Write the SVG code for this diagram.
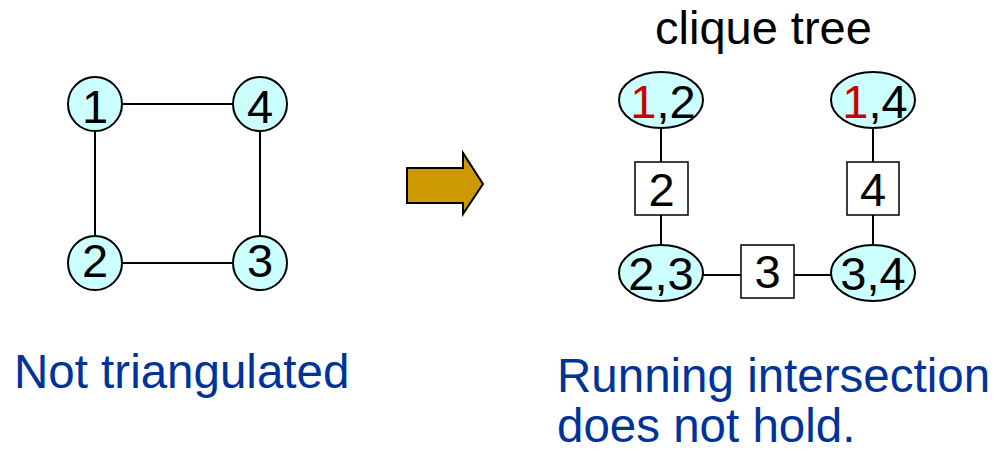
<svg xmlns="http://www.w3.org/2000/svg" width="995" height="452" viewBox="0 0 995 452">
<style>
.n{fill:#ccffff;stroke:#000;stroke-width:2}
.b{fill:#fff;stroke:#000;stroke-width:1.5}
.t{font-family:"Liberation Sans",Arial,sans-serif;font-size:47px;fill:#000;text-anchor:middle}
.r{fill:#cc0000}
.c line{stroke:#000;stroke-width:2}
.blue{font-family:"Liberation Sans",Arial,sans-serif;font-size:47.5px;fill:#003399}
</style>
<rect width="995" height="452" fill="#fff"/>
<g class="c" id="connectors">
<line x1="95" y1="104" x2="260" y2="104"/>
<line x1="95" y1="104" x2="95" y2="263"/>
<line x1="260" y1="104" x2="260" y2="263"/>
<line x1="95" y1="263" x2="260" y2="263"/>
<line x1="661" y1="128" x2="661" y2="245"/>
<line x1="873" y1="128" x2="873" y2="245"/>
<line x1="703" y1="275" x2="831" y2="275"/>
</g>
<g id="g1"><circle class="n" cx="95" cy="104" r="27"/><text class="t" x="95" y="123">1</text></g>
<g id="g4"><circle class="n" cx="260" cy="104" r="27"/><text class="t" x="260" y="123">4</text></g>
<g id="g2"><circle class="n" cx="95" cy="263" r="27"/><text class="t" x="95" y="277">2</text></g>
<g id="g3"><circle class="n" cx="260" cy="263" r="27"/><text class="t" x="260" y="277">3</text></g>
<g id="arrow"><path d="M407,168 H463 V153 L483,184 L463,214 V203 H407 Z" fill="#cc9900" stroke="#000" stroke-width="2"/></g>
<text id="title" x="655" y="44" font-family="Liberation Sans,Arial,sans-serif" font-size="47" fill="#000">clique tree</text>
<g id="c12"><ellipse class="n" cx="661" cy="100" rx="42" ry="28"/><text class="t" x="663" y="118"><tspan class="r">1</tspan>,2</text></g>
<g id="c14"><ellipse class="n" cx="873" cy="100" rx="42" ry="28"/><text class="t" x="875" y="118"><tspan class="r">1</tspan>,4</text></g>
<g id="c23"><ellipse class="n" cx="661" cy="273" rx="42" ry="28"/><text class="t" x="661" y="290">2,3</text></g>
<g id="c34"><ellipse class="n" cx="873" cy="273" rx="42" ry="28"/><text class="t" x="873" y="290">3,4</text></g>
<g id="s2"><rect class="b" x="635" y="162" width="53" height="53"/><text class="t" x="661.5" y="206">2</text></g>
<g id="s4"><rect class="b" x="847" y="162" width="52" height="53"/><text class="t" x="873" y="206">4</text></g>
<g id="s3"><rect class="b" x="741" y="245" width="53" height="53"/><text class="t" x="767.5" y="288">3</text></g>
<text class="blue" x="14" y="388">Not triangulated</text>
<text class="blue" x="557" y="392">Running intersection</text>
<text class="blue" x="557" y="442">does not hold.</text>
</svg>
